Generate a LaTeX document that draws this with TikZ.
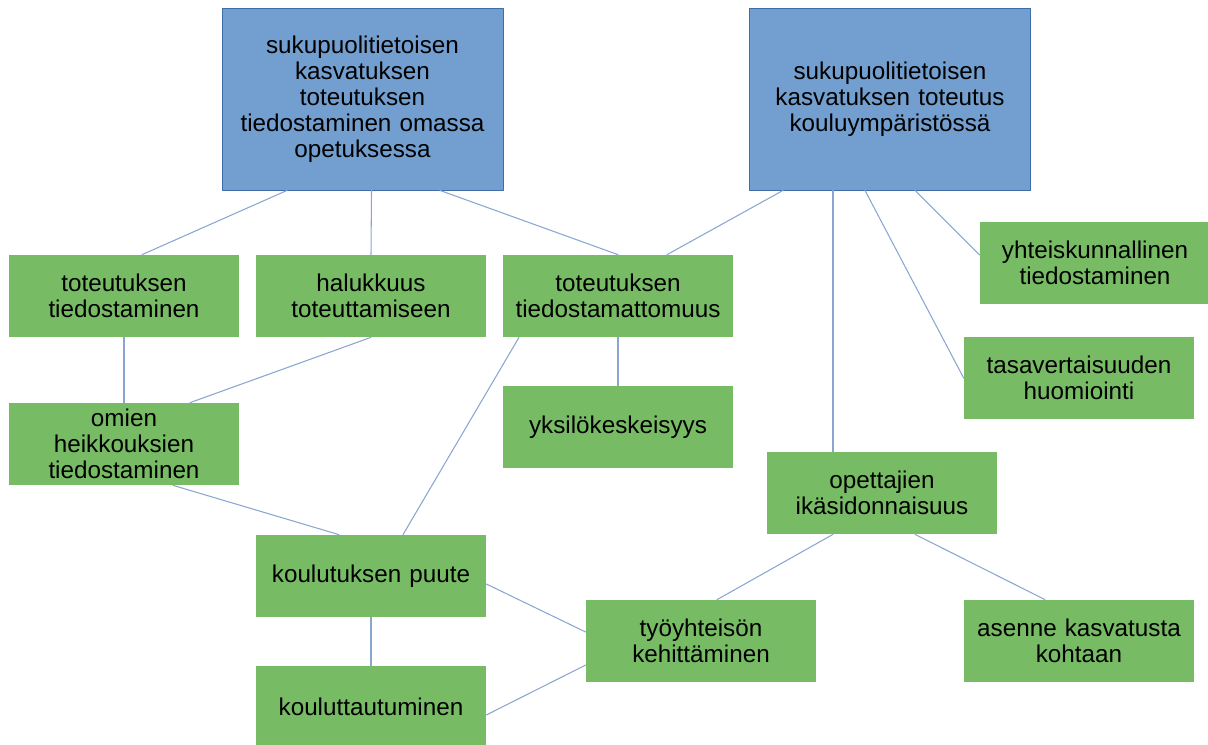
\documentclass[tikz,border=0pt]{standalone}
\usepackage{fontspec}
\setmainfont{Liberation Sans}
\definecolor{paasin}{HTML}{729FCF}
\definecolor{paareuna}{HTML}{3E6DAA}
\definecolor{vihrea}{HTML}{77BC65}
\definecolor{viiva}{HTML}{8AA6D0}
\begin{document}
\begin{tikzpicture}[font=\fontsize{13.8}{14.8}\selectfont, line join=round, line cap=round,
	paa/.style={draw=paareuna, line width=0.5pt, fill=paasin, minimum width=5.62cm, minimum height=3.64cm, text width=5.3cm, align=center, inner sep=0pt},
	ala/.style={fill=vihrea, minimum width=4.6cm, minimum height=1.64cm, text width=4.4cm, align=center, inner sep=0pt},
	yhteys/.style={draw=viiva, line width=0.6pt}]
	\useasboundingbox (0,0) rectangle (24.16,14.88);
	\node[paa] (B1) at (7.25,12.9) {sukupuolitietoisen\\kasvatuksen\\toteutuksen\\tiedostaminen omassa\\opetuksessa};
	\node[paa] (B2) at (17.8,12.9) {sukupuolitietoisen\\kasvatuksen toteutus\\kouluympäristössä\\[1.6em]};
	\node[ala] (g1) at (2.48,8.96) {toteutuksen\\tiedostaminen};
	\node[ala] (g2) at (7.42,8.96) {halukkuus\\toteuttamiseen};
	\node[ala] (g3) at (12.36,8.96) {toteutuksen\\tiedostamattomuus};
	\node[ala] (g4) at (21.9,9.62) {yhteiskunnallinen\\tiedostaminen};
	\node[ala] (g5) at (21.58,7.32) {tasavertaisuuden\\huomiointi};
	\node[ala] (g6) at (2.48,6.0) {omien\\heikkouksien\\tiedostaminen};
	\node[ala] (g7) at (12.36,6.34) {yksilökeskeisyys};
	\node[ala] (g8) at (17.64,5.02) {opettajien\\ikäsidonnaisuus};
	\node[ala] (g9) at (7.42,3.36) {koulutuksen puute};
	\node[ala] (g10) at (14.02,2.06) {työyhteisön\\kehittäminen};
	\node[ala] (g11) at (21.58,2.06) {asenne kasvatusta\\kohtaan};
	\node[ala] (g12) at (7.42,0.74) {kouluttautuminen};
	% yhteydet
	\draw[yhteys] ([xshift=-1.51cm]B1.south) -- ([xshift=0.36cm]g1.north);
	\draw[yhteys] ([xshift=0.18cm]B1.south) -- (g2.north);
	\draw[yhteys] ([xshift=1.55cm]B1.south) -- (g3.north);
	\draw[yhteys] ([xshift=-2.14cm]B2.south) -- ([xshift=0.98cm]g3.north);
	\draw[yhteys] ([xshift=-1.14cm]B2.south) -- ([xshift=-0.98cm]g8.north);
	\draw[yhteys] ([xshift=-0.5cm]B2.south) -- (g5.west);
	\draw[yhteys] ([xshift=0.5cm]B2.south) -- ([yshift=0.16cm]g4.west);
	\draw[yhteys] (g1.south) -- (g6.north);
	\draw[yhteys] (g2.south) -- ([xshift=1.32cm]g6.north);
	\draw[yhteys] (g3.south) -- (g7.north);
	\draw[yhteys] ([xshift=-1.98cm]g3.south) -- ([xshift=0.64cm]g9.north);
	\draw[yhteys] ([xshift=0.98cm]g6.south) -- ([xshift=-0.64cm]g9.north);
	\draw[yhteys] ([yshift=-0.16cm]g9.east) -- ([yshift=0.18cm]g10.west);
	\draw[yhteys] (g9.south) -- (g12.north);
	\draw[yhteys] ([yshift=-0.16cm]g12.east) -- ([yshift=-0.48cm]g10.west);
	\draw[yhteys] ([xshift=-0.98cm]g8.south) -- ([xshift=0.32cm]g10.north);
	\draw[yhteys] ([xshift=0.66cm]g8.south) -- ([xshift=-0.68cm]g11.north);
\end{tikzpicture}
\end{document}
